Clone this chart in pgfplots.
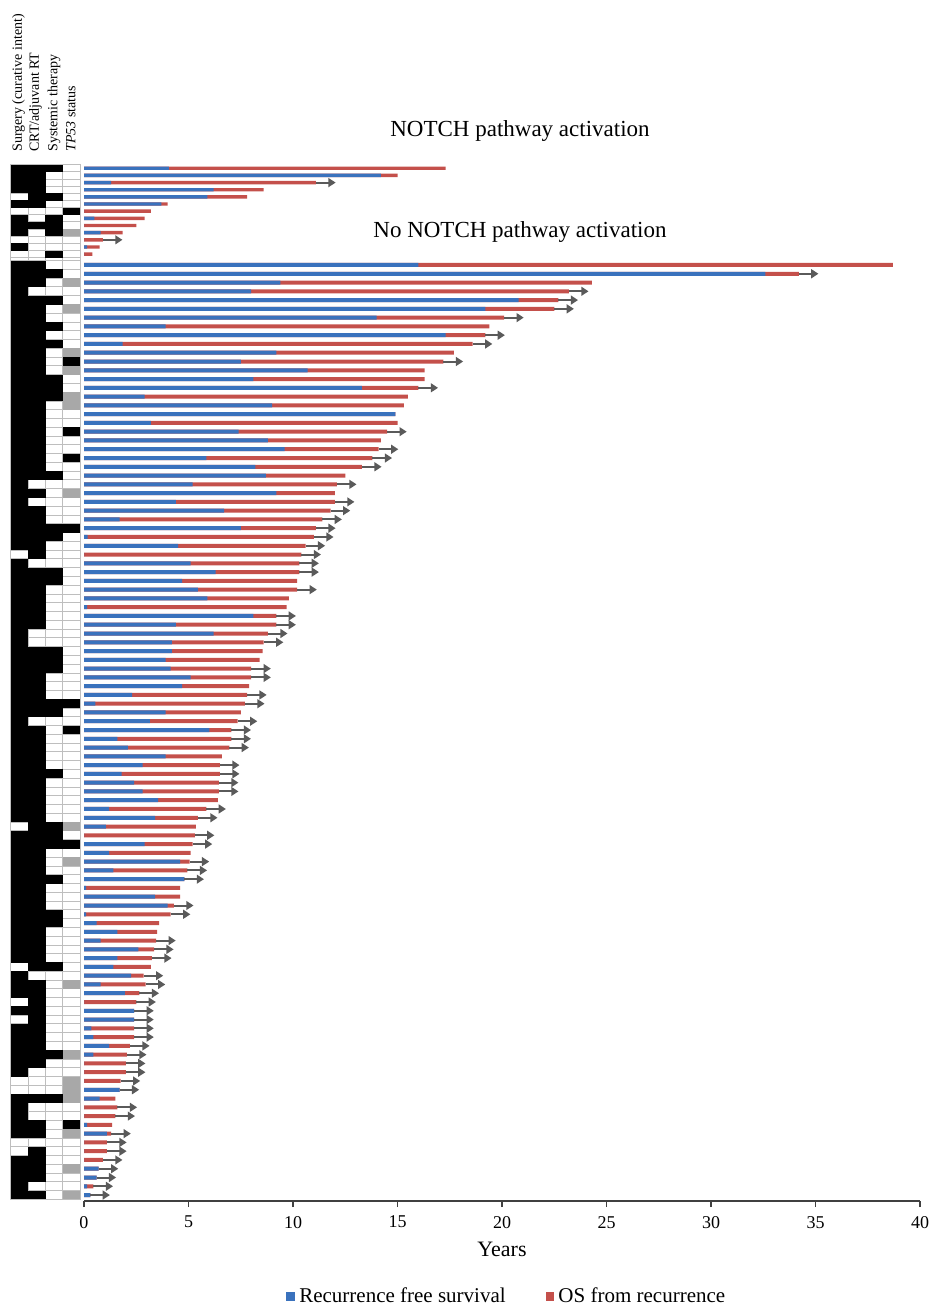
\documentclass[border=0pt]{standalone}
\usepackage{pgfplots}
\pgfplotsset{compat=1.18}
\usepackage{pgfplotstable}
\usepackage{fontspec}
\setmainfont{Liberation Serif}
\usetikzlibrary{arrows.meta}
\definecolor{rfsblue}{HTML}{3A72BD}
\definecolor{osred}{HTML}{C4504B}
\definecolor{arrowgray}{HTML}{5A5A5A}
\definecolor{hmgray}{HTML}{A8A8A8}
\definecolor{hmgrid}{HTML}{BEBEBE}
\definecolor{axisgray}{HTML}{404040}

\pgfdeclareplotmark{cellbot}{\pgfpathrectangle{\pgfpoint{-4.37pt}{-2.22pt}}{\pgfpoint{8.74pt}{4.44pt}}\pgfusepathqfill}
\pgfdeclareplotmark{celltop}{\pgfpathrectangle{\pgfpoint{-4.37pt}{-1.81pt}}{\pgfpoint{8.74pt}{3.62pt}}\pgfusepathqfill}

\pgfplotsset{
 hmbot/.style={scatter, only marks, scatter src=explicit symbolic, forget plot,
   scatter/classes={B={mark=cellbot,fill=black,draw=none},G={mark=cellbot,fill=hmgray,draw=none},W={mark=none}}},
 hmtop/.style={scatter, only marks, scatter src=explicit symbolic, forget plot,
   scatter/classes={B={mark=celltop,fill=black,draw=none},G={mark=celltop,fill=hmgray,draw=none},W={mark=none}}},
 hmgeom/.style={at={(5.35pt,-599.7pt)}, anchor=south west,
  scale only axis, width=34.75pt, height=517.35pt,
  xmin=0, xmax=4, ymin=-1199.4, ymax=-164.7, clip=false},
}

% NOTCH pathway activation: row, RFS, total, arrow
\pgfplotstableread{
r rfs tot a
1 4.06 17.3 0
2 14.2 15.0 0
3 1.3 11.1 1
4 6.2 8.6 0
5 5.9 7.8 0
6 3.7 4.0 0
7 0 3.2 0
8 0.5 2.9 0
9 0 2.5 0
10 0.8 1.85 0
11 0 0.9 1
12 0.15 0.75 0
13 0 0.4 0
}\topdata

% No NOTCH pathway activation
\pgfplotstableread{
r rfs tot a
1 16.0 38.7 0
2 32.6 34.2 1
3 9.4 24.3 0
4 8.0 23.2 1
5 20.8 22.7 1
6 19.2 22.5 1
7 14.0 20.1 1
8 3.9 19.4 0
9 17.3 19.2 1
10 1.85 18.6 1
11 9.2 17.7 0
12 7.5 17.2 1
13 10.7 16.3 0
14 8.1 16.3 0
15 13.3 16.0 1
16 2.9 15.5 0
17 9.0 15.3 0
18 14.9 14.9 0
19 3.2 15.0 0
20 7.4 14.5 1
21 8.8 14.2 0
22 9.6 14.1 1
23 5.85 13.8 1
24 8.2 13.3 1
25 8.7 12.5 0
26 5.2 12.1 1
27 9.2 12.0 0
28 4.4 12.0 1
29 6.7 11.8 1
30 1.7 11.4 1
31 7.5 11.1 1
32 0.17 11.0 1
33 4.5 10.6 1
34 0 10.4 1
35 5.1 10.3 1
36 6.3 10.3 1
37 4.7 10.2 0
38 5.45 10.2 1
39 5.9 9.8 0
40 0.15 9.7 0
41 8.1 9.2 1
42 4.4 9.2 1
43 6.2 8.8 1
44 4.2 8.6 1
45 4.2 8.55 0
46 3.9 8.4 0
47 4.15 8.0 1
48 5.1 8.0 1
49 4.7 7.9 0
50 2.3 7.8 1
51 0.55 7.7 1
52 3.9 7.5 0
53 3.15 7.35 1
54 6.0 7.05 1
55 1.6 7.05 1
56 2.1 6.95 1
57 3.9 6.6 0
58 2.8 6.5 1
59 1.8 6.5 1
60 2.4 6.45 1
61 2.8 6.45 1
62 3.55 6.4 0
63 1.2 5.85 1
64 3.4 5.45 1
65 1.05 5.35 0
66 0 5.3 1
67 2.9 5.2 1
68 1.2 5.1 0
69 4.6 5.05 1
70 1.4 4.95 1
71 4.8 4.8 1
72 0.1 4.6 0
73 3.4 4.6 0
74 4.0 4.3 1
75 0.1 4.15 1
76 0.6 3.6 0
77 1.6 3.5 0
78 0.8 3.45 1
79 2.6 3.35 1
80 1.6 3.25 1
81 1.4 3.2 0
82 2.25 2.85 1
83 0.8 2.95 1
84 1.95 2.65 1
85 0 2.5 1
86 2.4 2.4 1
87 2.4 2.4 1
88 0.35 2.4 1
89 0.45 2.4 1
90 1.2 2.2 1
91 0.45 2.05 1
92 0 2.0 1
93 0 2.0 1
94 0 1.75 1
95 1.7 1.7 1
96 0.75 1.5 0
97 0 1.6 1
98 0 1.5 1
99 0.15 1.35 0
100 1.1 1.3 1
101 0 1.1 1
102 0 1.1 1
103 0 0.9 1
104 0.7 0.7 1
105 0.6 0.6 1
106 0.15 0.45 1
107 0.3 0.3 1
}\botdata

% heatmap: Surgery, CRT/adjuvant RT, Systemic therapy, TP53 status (B black, W white, G grey)
\pgfplotstableread{
r c1 c2 c3 c4
1 B B B W
2 B B W W
3 B B W W
4 B B W W
5 W B B W
6 B B W W
7 W W W B
8 B W B W
9 B B B W
10 B W B G
11 W W W W
12 B W W W
13 W W B W
}\hmtopdata

\pgfplotstableread{
r c1 c2 c3 c4
1 B B W W
2 B B B W
3 B B W G
4 B W W W
5 B B B W
6 B B W G
7 B B W W
8 B B B W
9 B B W W
10 B B B W
11 B B W G
12 B B W B
13 B B W G
14 B B B W
15 B B B W
16 B B B G
17 B B W G
18 B B W W
19 B B W W
20 B B W B
21 B B W W
22 B B W W
23 B B W B
24 B B W W
25 B B B W
26 B W W W
27 B B W G
28 B W W W
29 B B W W
30 B B W W
31 B B B B
32 B B B W
33 B B W W
34 W B W W
35 B W W W
36 B B B W
37 B B B W
38 B B W W
39 B B W W
40 B B W W
41 B B W W
42 B B W W
43 B W W W
44 B W W W
45 B B B W
46 B B B W
47 B B B W
48 B B W W
49 B B W W
50 B B W W
51 B B B B
52 B B B W
53 B W W W
54 B B W B
55 B B W W
56 B B W W
57 B B W W
58 B B W W
59 B B B W
60 B B W W
61 B B W W
62 B B W W
63 B B W W
64 B B W W
65 W B B G
66 B B B W
67 B B B B
68 B B W W
69 B B W G
70 B B W W
71 B B B W
72 B B W W
73 B B W W
74 B B W W
75 B B B W
76 B B B W
77 B B W W
78 B B W W
79 B B W W
80 B B W W
81 W B B W
82 B W W W
83 B B W G
84 B B W W
85 W B W W
86 B B W W
87 W B W W
88 B B W W
89 B B W W
90 B B W W
91 B B B G
92 B B W W
93 B W W W
94 W W W G
95 W W W G
96 B B B G
97 B W W W
98 B W W W
99 B B W B
100 B B W G
101 W W W W
102 W B W W
103 B B W W
104 B B W G
105 B B W W
106 B W W W
107 B B W G
}\hmbotdata

\begin{document}
\begin{tikzpicture}
\path[use as bounding box] (0pt,0pt) rectangle (465pt,-654.5pt);

% ---------- heatmap grid (beneath the cells) ----------
\begin{axis}[hmgeom,
  xtick={1,2,3}, xticklabels={},
  ytick={-1199.4,-1190.626,...,-260.0}, yticklabels={},
  extra y ticks={-257.7,-250.546,...,-164.0}, extra y tick labels={},
  extra y tick style={grid=major},
  grid=major, grid style={hmgrid, line width=0.45pt},
  major tick length=0pt,
  axis line style={hmgrid, line width=0.45pt},
]
\end{axis}

% ---------- heatmap cells ----------
\begin{axis}[hmgeom, hide axis]
\addplot[hmtop] table[x expr=0.5, y expr={-(168.28+(\thisrow{r}-1)*7.154)}, meta=c1]{\hmtopdata};
\addplot[hmtop] table[x expr=1.5, y expr={-(168.28+(\thisrow{r}-1)*7.154)}, meta=c2]{\hmtopdata};
\addplot[hmtop] table[x expr=2.5, y expr={-(168.28+(\thisrow{r}-1)*7.154)}, meta=c3]{\hmtopdata};
\addplot[hmtop] table[x expr=3.5, y expr={-(168.28+(\thisrow{r}-1)*7.154)}, meta=c4]{\hmtopdata};
\addplot[hmbot] table[x expr=0.5, y expr={-(264.99+(\thisrow{r}-1)*8.774)}, meta=c1]{\hmbotdata};
\addplot[hmbot] table[x expr=1.5, y expr={-(264.99+(\thisrow{r}-1)*8.774)}, meta=c2]{\hmbotdata};
\addplot[hmbot] table[x expr=2.5, y expr={-(264.99+(\thisrow{r}-1)*8.774)}, meta=c3]{\hmbotdata};
\addplot[hmbot] table[x expr=3.5, y expr={-(264.99+(\thisrow{r}-1)*8.774)}, meta=c4]{\hmbotdata};
\end{axis}

% ---------- swimmer bars ----------
\begin{axis}[
  at={(42pt,-600.5pt)}, anchor=south west,
  scale only axis, width=418pt, height=520.5pt,
  xmin=0, xmax=40, ymin=-1201, ymax=-160,
  axis x line=bottom, axis y line=none,
  x axis line style={-, axisgray, line width=0.9pt},
  xtick={0,5,...,40}, tick align=outside, major tick length=3pt,
  xtick style={axisgray, line width=0.6pt},
  ticklabel style={font=\fontsize{9}{9}\selectfont},
  xticklabel style={yshift=-1pt},
  /pgf/number format/assume math mode=true,
  xlabel={Years},
  xlabel style={at={(axis description cs:0.5,-0.0461)}, anchor=center, font=\fontsize{11}{11}\selectfont},
  legend style={at={(axis description cs:0.507,-0.0915)}, anchor=center, draw=none, fill=none,
    font=\fontsize{10.5}{10.5}\selectfont, inner sep=1pt, /tikz/every even column/.append style={column sep=18pt}},
  legend columns=2, legend cell align=left,
  legend image code/.code={\fill[#1] (0pt,-2.2pt) rectangle (4.4pt,2.2pt);},
  clip=false,
]
\addplot[xbar, bar shift=0pt, bar width=1.7pt, fill=osred, draw=none, forget plot]
  table[x=tot, y expr={-(168.28+(\thisrow{r}-1)*7.154)}]{\topdata};
\addplot[xbar, bar shift=0pt, bar width=1.7pt, fill=rfsblue, draw=none, forget plot]
  table[x=rfs, y expr={-(168.28+(\thisrow{r}-1)*7.154)}]{\topdata};
\addplot[quiver={u=0.94,v=0}, -{Triangle[length=3.6pt,width=4.4pt]}, draw=arrowgray, line width=1pt, mark=none, forget plot,
  restrict expr to domain={\thisrow{a}}{0.5:1.5}]
  table[x=tot, y expr={-(168.28+(\thisrow{r}-1)*7.154)}]{\topdata};

\addplot[xbar, bar shift=0pt, bar width=2pt, fill=osred, draw=none, forget plot]
  table[x=tot, y expr={-(264.99+(\thisrow{r}-1)*8.774)}]{\botdata};
\addplot[xbar, bar shift=0pt, bar width=2pt, fill=rfsblue, draw=none, forget plot]
  table[x=rfs, y expr={-(264.99+(\thisrow{r}-1)*8.774)}]{\botdata};
\addplot[quiver={u=0.94,v=0}, -{Triangle[length=3.6pt,width=4.4pt]}, draw=arrowgray, line width=1pt, mark=none, forget plot,
  restrict expr to domain={\thisrow{a}}{0.5:1.5}]
  table[x=tot, y expr={-(264.99+(\thisrow{r}-1)*8.774)}]{\botdata};

\addlegendimage{fill=rfsblue, draw=none}
\addlegendentry{Recurrence free survival}
\addlegendimage{fill=osred, draw=none}
\addlegendentry{OS from recurrence}
\end{axis}

% ---------- texts ----------
\node[font=\fontsize{11.5}{12}\selectfont] at (260pt,-65.5pt) {NOTCH pathway activation};
\node[font=\fontsize{11.5}{12}\selectfont] at (260pt,-115.8pt) {No NOTCH pathway activation};
\begin{scope}[every node/.style={rotate=90, anchor=west, inner sep=0pt, font=\fontsize{7}{7}\selectfont}]
\node at (9.25pt,-76pt) {Surgery (curative intent)};
\node at (17.75pt,-76pt) {CRT/adjuvant RT};
\node at (27pt,-76pt) {Systemic therapy};
\node at (35.35pt,-76pt) {\textit{TP53} status};
\end{scope}
\end{tikzpicture}
\end{document}
